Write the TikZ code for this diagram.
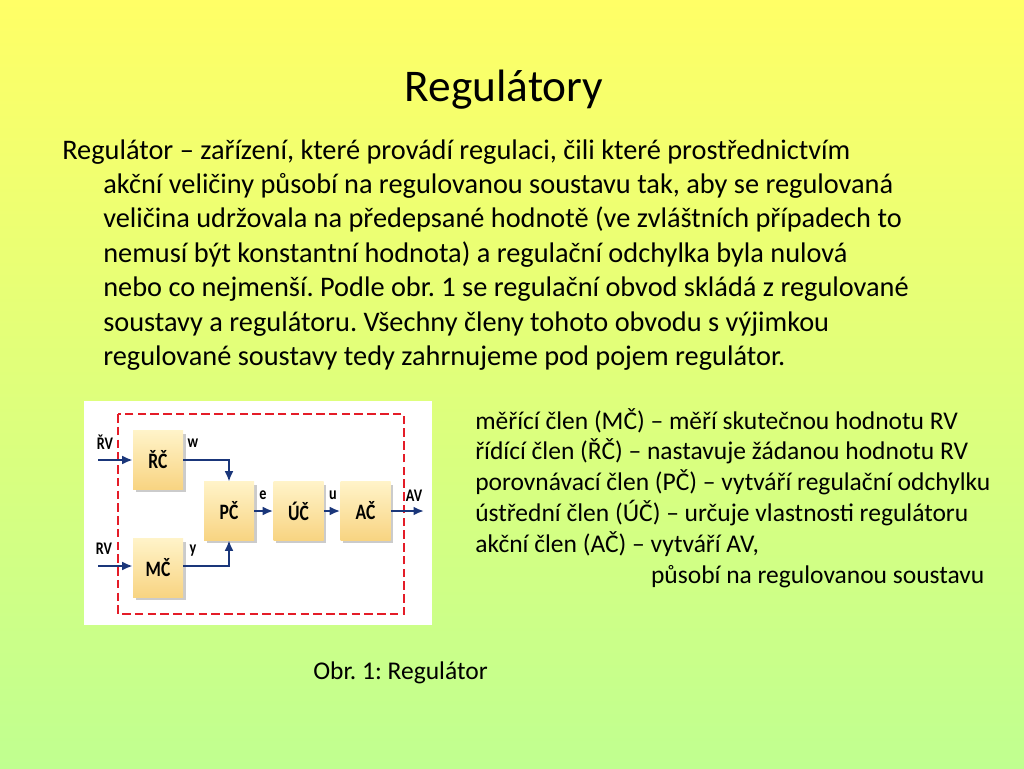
\documentclass[tikz,border=0pt]{standalone}
\usepackage{fontspec}
\usepackage{graphicx}
\setmainfont{Carlito}
\usetikzlibrary{positioning,arrows.meta,shadows}
\definecolor{bgtop}{RGB}{255,255,102}
\definecolor{bgbot}{RGB}{192,255,144}
\definecolor{blokA}{RGB}{255,243,200}
\definecolor{blokB}{RGB}{248,212,130}
\definecolor{navy}{RGB}{26,54,122}
\definecolor{cervena}{RGB}{228,28,40}
\newcommand{\uzke}[1]{\scalebox{0.8}[1]{#1}}
\tikzset{
  >={Latex[length=2.6mm,width=2.2mm]},
  blok/.style ={minimum width=12.4mm, minimum height=14.4mm, inner sep=0pt,
                top color=blokA, bottom color=blokB,
                drop shadow={shadow xshift=0.7mm, shadow yshift=-0.7mm, fill=black!40, opacity=.5},
                font=\fontsize{15.5}{17}\selectfont\bfseries},
  sip/.style  ={navy, line width=1.8pt, ->},
  znacka/.style={font=\fontsize{12.5}{14}\selectfont\bfseries},
  radky/.style ={anchor=base west, inner sep=0pt},
  ramec/.style={cervena, line width=1.1pt, dash pattern=on 6pt off 3pt},
}
\frenchspacing

\begin{document}
\begin{tikzpicture}[x=0.248mm, y=-0.248mm]
  % background
  \shade[top color=bgtop, bottom color=bgbot] (0,0) rectangle (1024,768);
  \useasboundingbox (0,0) rectangle (1024,768);

  % title and text
  \node[anchor=base, inner sep=0pt, font=\fontsize{32}{38}\selectfont] (titul) at (504,101) {Regulátory};
  \node[radky, font=\fontsize{20}{24.3}\selectfont] (prvni) at (62,159)
    {Regulátor – zařízení, které provádí regulaci, čili které prostřednictvím};
  \node[radky, font=\fontsize{20}{24.3}\selectfont] (odst) at (103,193.5)
    {\vtop{\hbox{akční veličiny působí na regulovanou soustavu tak, aby se regulovaná}
     \hbox{veličina udržovala na předepsané hodnotě (ve zvláštních případech to}
     \hbox{nemusí být konstantní hodnota) a regulační odchylka byla nulová}
     \hbox{nebo co nejmenší. Podle obr. 1 se regulační obvod skládá z regulované}
     \hbox{soustavy a regulátoru. Všechny členy tohoto obvodu s výjimkou}
     \hbox{regulované soustavy tedy zahrnujeme pod pojem regulátor.}}};

  % legend on the right
  \node[radky, font=\fontsize{18}{21.8}\selectfont] (popis) at (475,429)
    {\vtop{\hbox{měřící člen (MČ) – měří skutečnou hodnotu RV}
     \hbox{řídící člen (ŘČ) – nastavuje žádanou hodnotu RV}
     \hbox{porovnávací člen (PČ) – vytváří regulační odchylku}
     \hbox{ústřední člen (ÚČ) – určuje vlastnosti regulátoru}
     \hbox{akční člen (AČ) – vytváří AV,}
     \hbox{\hspace*{43.6mm}působí na regulovanou soustavu}}};

  % the figure
  \fill[white] (84,401) rectangle (432,625);
  \draw[ramec] (118,414) rectangle (404,614);

  \node[blok] (RC) at (158,460) {\uzke{ŘČ}};
  \node[blok] (MC) at (158,568) {\uzke{MČ}};
  \node[blok] (PC) at (229,511) {\uzke{PČ}};
  \node[blok] (UC) at (298.5,511) {\uzke{ÚČ}};
  \node[blok] (AC) at (365.5,511) {\uzke{AČ}};

  \coordinate (vstR) at (98,460);
  \coordinate (vstM) at (98,566);
  \coordinate (vyst) at (424,511);

  \draw[sip] (vstR) -- (RC.west);
  \draw[sip] (vstM) -- (MC.west |- vstM);
  \draw[sip] (RC.east) -| (PC.north);
  \draw[sip] (MC.east |- vstM) -| (PC.south);
  \draw[sip] (PC) -- (UC);
  \draw[sip] (UC) -- (AC);
  \draw[sip] (AC.east) -- (vyst);

  \node[znacka] (lRV1) at (105,442) {\uzke{ŘV}};
  \node[znacka] (lRV2) at (104,549) {\uzke{RV}};
  \node[znacka] (lw) at (193,443) {\uzke{w}};
  \node[znacka] (ly) at (193,551) {\uzke{y}};
  \node[znacka] (le) at (263,495) {\uzke{e}};
  \node[znacka] (lu) at (333,495) {\uzke{u}};
  \node[znacka] (lAV) at (414,496) {\uzke{AV}};

  \node[anchor=base, inner sep=0pt, font=\fontsize{18}{21.8}\selectfont] (obr) at (400.5,679) {Obr. 1: Regulátor};
\end{tikzpicture}
\end{document}
